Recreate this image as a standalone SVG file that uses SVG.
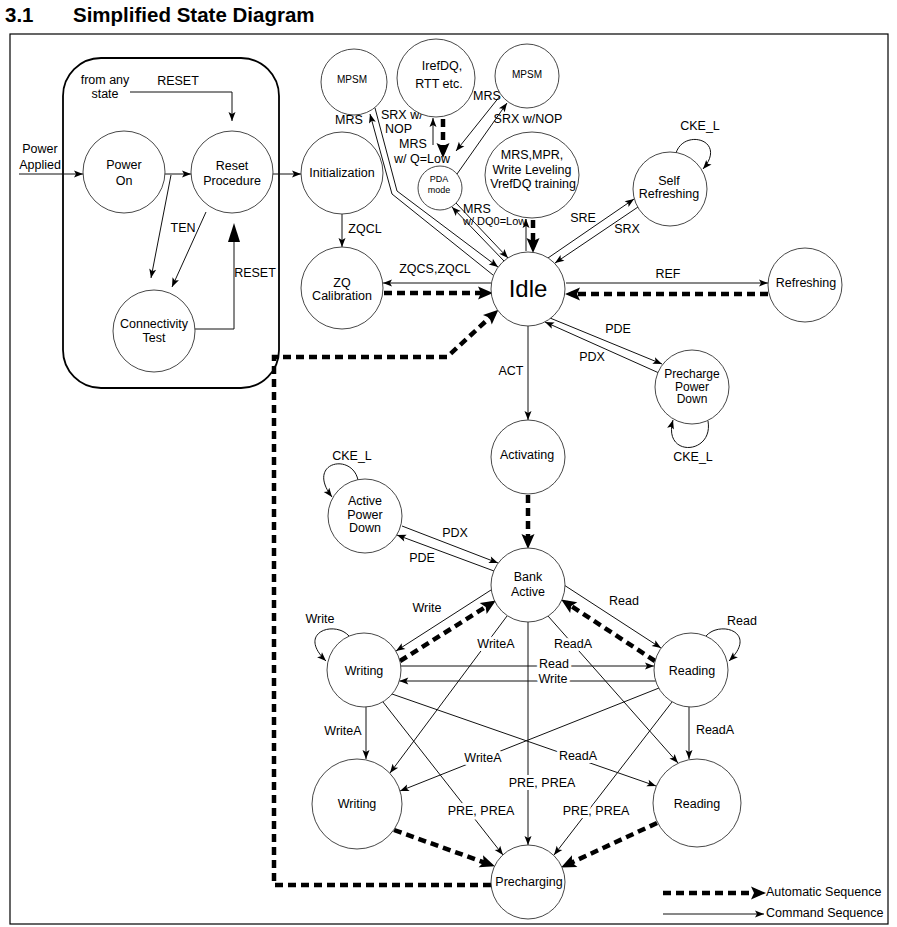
<svg xmlns="http://www.w3.org/2000/svg" width="897" height="927" viewBox="0 0 897 927">
<defs>
<style>
.n{fill:#fff;stroke:#333;stroke-width:0.9}
.t{font-family:"Liberation Sans",Arial,sans-serif;font-size:12.5px;text-anchor:middle;fill:#000}
.s{text-anchor:start}
.sm{font-size:10px}
.xs{font-size:9px}
.m{font-size:11px}
.p12{font-size:12px}
.big{font-size:24px}
.h{paint-order:stroke;stroke:#fff;stroke-width:6px;stroke-linejoin:round}
.c{fill:none;stroke:#111;stroke-width:1}
.a{fill:none;stroke:#000;stroke-width:4.5;stroke-dasharray:8 5}
.ca{marker-end:url(#ar)}
.aa{marker-end:url(#ad)}
</style>
<marker id="ar" markerUnits="userSpaceOnUse" markerWidth="10" markerHeight="8" refX="9" refY="4" orient="auto" overflow="visible"><path d="M0,0.5 L9,4 L0,7.5 L2,4 z" fill="#000"/></marker>
<marker id="ad" markerUnits="userSpaceOnUse" markerWidth="16" markerHeight="14" refX="9" refY="6.5" orient="auto" overflow="visible"><path d="M0,0 L15,6.5 L0,13 L3,6.5 z" fill="#000"/></marker>
</defs>
<rect width="897" height="927" fill="#fff"/>
<g id="title">
<text x="5" y="22" font-family="Liberation Sans,Arial,sans-serif" font-size="20.5" font-weight="bold">3.1</text>
<text x="73" y="22" font-family="Liberation Sans,Arial,sans-serif" font-size="20.5" font-weight="bold">Simplified State Diagram</text>
</g>
<rect id="frame" x="10" y="34" width="878" height="890" fill="none" stroke="#000" stroke-width="1.2"/>
<rect id="reset-group" x="63" y="58" width="216" height="330" rx="38" fill="none" stroke="#000" stroke-width="1.8"/>

<g id="connectors">
<path class="c ca" d="M19,174 H83"/>
<path class="c ca" d="M165,174 H191"/>
<path class="c ca" d="M273,174 H301"/>
<path class="c ca" d="M130,92 H232 V121"/>
<path class="c ca" d="M171,175 L151,278"/>
<path class="c ca" d="M206,212 L172,287"/>
<path class="c" d="M195,329 H234 V242"/>
<polygon points="234,223 228,242 240,242" fill="#000"/>
<path class="c ca" d="M342,214 V247"/>
<path class="c ca" d="M491,283 H383"/>
<path class="a aa" d="M384,293 H487"/>
<path class="c ca" d="M566,283 H768"/>
<path class="a aa" d="M768,294 H571"/>
<path class="c ca" d="M548,258 L634,199"/>
<path class="c ca" d="M638,207 L555,263"/>
<path class="c ca" d="M676,153 C684,128 728,140 703,169"/>
<path class="c ca" d="M550,318 L662,364"/>
<path class="c ca" d="M659,373 L545,322"/>
<path class="c ca" d="M708,421 C714,455 662,458 673,420"/>
<path class="c ca" d="M528,326 V420"/>
<path class="a aa" d="M528,495 V543"/>
<path class="c ca" d="M358,480 C352,452 305,462 332,497"/>
<path class="c ca" d="M402,526 L498,563"/>
<path class="c ca" d="M494,571 L397,535"/>
<path class="c ca" d="M493,275 L392,194 L370,114"/>
<path class="c ca" d="M375,108 L397,191 L498,267"/>
<path class="c ca" d="M504,261 L452,207"/>
<path class="c ca" d="M456,203 L508,258"/>
<path class="c ca" d="M433,145 V118"/>
<path class="a aa" d="M443,119 V152"/>
<path class="c ca" d="M457,174 L507,103"/>
<path class="c ca" d="M500,96 L456,151"/>
<path class="c ca" d="M526,251 V219"/>
<path class="a aa" d="M533,220 V247"/>
<path class="a aa" d="M491,885 H274 V357 H447 L494,313.7"/>
<path class="c ca" d="M491,590 L396,651"/>
<path class="a aa" d="M400,661 L490.8,603.7"/>
<path class="c ca" d="M564,585 L661,648"/>
<path class="a aa" d="M655,661 L566.2,602.7"/>
<path class="c ca" d="M349,636 C335,620 296,632 326,661"/>
<path class="c ca" d="M706,636 C720,620 759,632 729,661"/>
<path class="c ca" d="M401,666 H654"/>
<path class="c ca" d="M655.7,681 H399.3"/>
<path class="c ca" d="M528,622 V845"/>
<path class="c ca" d="M507,616 L390,773"/>
<path class="c ca" d="M548,616 L678,763"/>
<path class="c ca" d="M366,707 V759"/>
<path class="c ca" d="M689,707 V759"/>
<path class="c ca" d="M392,694 L656,786"/>
<path class="c ca" d="M659,688 L400,791"/>
<path class="c ca" d="M383,702 L503,855"/>
<path class="c ca" d="M672,702 L554,855"/>
<path class="a aa" d="M394,830 L489.3,864.3"/>
<path class="a aa" d="M657,823 L566.5,864.9"/>
<path class="a aa" d="M663,893 H760"/>
<path class="c ca" d="M663,914 H764"/>
</g>

<g id="labels">
<text class="t" x="40" y="153">Power</text>
<text class="t" x="40" y="169">Applied</text>
<text class="t" x="105" y="84">from any</text>
<text class="t" x="105" y="98">state</text>
<text class="t" x="178" y="85">RESET</text>
<text class="t" x="183" y="232">TEN</text>
<text class="t" x="255" y="277">RESET</text>
<text class="t" x="365" y="233">ZQCL</text>
<text class="t" x="435" y="273">ZQCS,ZQCL</text>
<text class="t" x="349" y="124">MRS</text>
<text class="t s" x="381" y="119">SRX w/</text>
<text class="t s" x="385" y="133">NOP</text>
<text class="t" x="413" y="148">MRS</text>
<text class="t" x="422" y="163">w/ Q=Low</text>
<text class="t" x="487" y="100">MRS</text>
<text class="t" x="528" y="123">SRX w/NOP</text>
<text class="t s" x="463" y="213">MRS</text>
<text class="t s m" x="463" y="225">w/ DQ0=Low</text>
<text class="t" x="583" y="222">SRE</text>
<text class="t" x="627" y="233">SRX</text>
<text class="t" x="700" y="130">CKE_L</text>
<text class="t" x="668" y="278">REF</text>
<text class="t" x="618" y="333">PDE</text>
<text class="t" x="592" y="361">PDX</text>
<text class="t" x="693" y="461">CKE_L</text>
<text class="t" x="511" y="375">ACT</text>
<text class="t" x="352" y="460">CKE_L</text>
<text class="t" x="455" y="537">PDX</text>
<text class="t" x="422" y="562">PDE</text>
<text class="t" x="427" y="612">Write</text>
<text class="t" x="624" y="605">Read</text>
<text class="t" x="320" y="623">Write</text>
<text class="t" x="742" y="625">Read</text>
<text class="t h" x="554" y="668">Read</text>
<text class="t h" x="553" y="683">Write</text>
<text class="t h" x="496" y="648">WriteA</text>
<text class="t h" x="573" y="648">ReadA</text>
<text class="t" x="343" y="735">WriteA</text>
<text class="t" x="715" y="734">ReadA</text>
<text class="t h" x="578" y="760">ReadA</text>
<text class="t h" x="483" y="762">WriteA</text>
<text class="t h" x="542" y="787">PRE, PREA</text>
<text class="t h" x="481" y="815">PRE, PREA</text>
<text class="t h" x="596" y="815">PRE, PREA</text>
<text class="t s" x="766" y="896">Automatic Sequence</text>
<text class="t s" x="766" y="917">Command Sequence</text>
</g>

<g id="power-on"><circle class="n" cx="124" cy="172" r="41"/><text class="t" x="124" y="169">Power</text><text class="t" x="124" y="185">On</text></g>
<g id="reset-procedure"><circle class="n" cx="232" cy="172" r="41"/><text class="t" x="232" y="170">Reset</text><text class="t" x="232" y="185">Procedure</text></g>
<g id="connectivity-test"><circle class="n" cx="154" cy="331" r="41"/><text class="t" x="154" y="328">Connectivity</text><text class="t" x="154" y="342">Test</text></g>
<g id="initialization"><circle class="n" cx="342" cy="173" r="41"/><text class="t" x="342" y="177">Initialization</text></g>
<g id="zq-calibration"><circle class="n" cx="342" cy="288" r="41"/><text class="t" x="342" y="287">ZQ</text><text class="t" x="342" y="300">Calibration</text></g>
<g id="mpsm-left"><circle class="n" cx="354" cy="82" r="33"/><text class="t sm" x="352" y="83">MPSM</text></g>
<g id="irefdq"><circle class="n" cx="436" cy="78" r="39"/><text class="t" x="442" y="70">IrefDQ,</text><text class="t" x="439" y="88">RTT etc.</text></g>
<g id="mpsm-right"><circle class="n" cx="527" cy="76" r="32"/><text class="t sm" x="527" y="78">MPSM</text></g>
<g id="pda-mode"><circle class="n" cx="440" cy="188" r="22"/><text class="t xs" x="439" y="182">PDA</text><text class="t xs" x="439" y="193">mode</text></g>
<g id="mrs-mpr"><ellipse class="n" cx="532" cy="175" rx="47" ry="43"/><text class="t" x="532" y="159">MRS,MPR,</text><text class="t" x="532" y="174">Write Leveling</text><text class="t" x="533" y="188">VrefDQ training</text></g>
<g id="idle"><circle class="n" cx="528" cy="289" r="37"/><text class="t big" x="528" y="297">Idle</text></g>
<g id="self-refreshing"><circle class="n" cx="670" cy="189" r="37"/><text class="t" x="669" y="185">Self</text><text class="t" x="669" y="198">Refreshing</text></g>
<g id="refreshing"><circle class="n" cx="805" cy="285" r="37"/><text class="t" x="806" y="287">Refreshing</text></g>
<g id="precharge-power-down"><circle class="n" cx="692" cy="387" r="37"/><text class="t p12" x="692" y="378">Precharge</text><text class="t p12" x="692" y="390.5">Power</text><text class="t p12" x="692" y="403">Down</text></g>
<g id="activating"><circle class="n" cx="528" cy="457" r="37"/><text class="t" x="527" y="459">Activating</text></g>
<g id="active-power-down"><circle class="n" cx="365" cy="516" r="37"/><text class="t" x="365" y="505">Active</text><text class="t" x="365" y="519">Power</text><text class="t" x="365" y="532">Down</text></g>
<g id="bank-active"><circle class="n" cx="528" cy="585" r="37"/><text class="t" x="528" y="581">Bank</text><text class="t" x="528" y="596">Active</text></g>
<g id="writing-1"><circle class="n" cx="364" cy="670" r="37"/><text class="t" x="364" y="675">Writing</text></g>
<g id="reading-1"><circle class="n" cx="691" cy="670" r="37"/><text class="t" x="692" y="675">Reading</text></g>
<g id="writing-2"><circle class="n" cx="357" cy="804" r="45"/><text class="t" x="357" y="808">Writing</text></g>
<g id="reading-2"><circle class="n" cx="697" cy="803" r="44"/><text class="t" x="697" y="808">Reading</text></g>
<g id="precharging"><circle class="n" cx="528" cy="882" r="37"/><text class="t" x="529" y="886">Precharging</text></g>
</svg>
